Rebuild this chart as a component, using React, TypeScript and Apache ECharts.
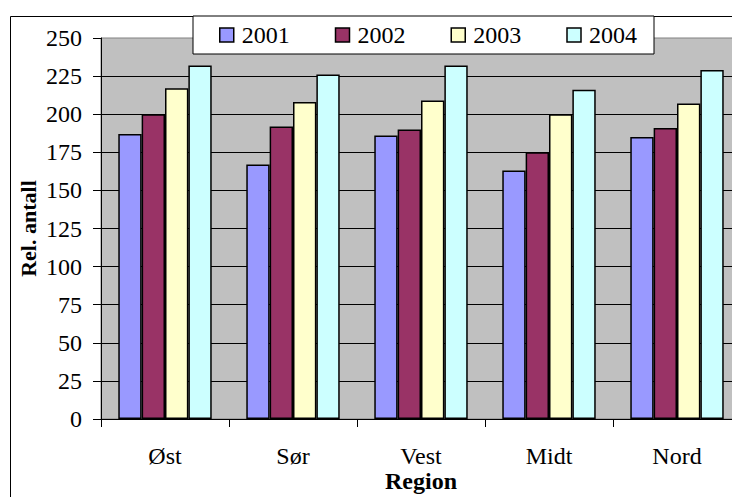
import React, { useEffect, useRef } from "react";
import * as echarts from "echarts";

const categories = ["Øst", "Sør", "Vest", "Midt", "Nord"];
const years = ["2001", "2002", "2003", "2004"];
const v2001 = [187, 167, 186, 163, 185];
const v2002 = [200, 192, 190, 175, 191];
const v2003 = [217, 208, 209, 200, 207];
const v2004 = [232, 226, 232, 216, 229];
const yTicks = [0, 25, 50, 75, 100, 125, 150, 175, 200, 225, 250];
const colors = ["#9999FF", "#993366", "#FFFFCC", "#CCFFFF"];

const FONT = "Liberation Serif";

export default function App() {
  const ref = useRef<HTMLDivElement>(null);
  useEffect(() => {
    if (!ref.current) return;
    const chart = echarts.init(ref.current, null, { renderer: "svg" });
    const seriesData = [v2001, v2002, v2003, v2004];
    chart.setOption({
      animation: false,
      backgroundColor: "#ffffff",
      textStyle: { fontFamily: FONT },
      graphic: [
        {
          type: "rect",
          z: -10,
          shape: { x: 10.5, y: 16.5, width: 900, height: 700 },
          style: { fill: "none", stroke: "#000", lineWidth: 1 },
        },
      ],
      legend: {
        data: years,
        left: 193,
        top: 16,
        padding: [7, 17, 7, 26],
        itemGap: 45,
        itemWidth: 14,
        itemHeight: 14,
        backgroundColor: "#ffffff",
        borderColor: "#000",
        borderWidth: 1,
        icon: "rect",
        itemStyle: { borderColor: "#000", borderWidth: 1.5 },
        textStyle: { fontFamily: FONT, fontSize: 24, color: "#000", padding: [0, 0, 0, 3] },
        z: 10,
      },
      grid: {
        left: 101,
        top: 38,
        right: -9,
        bottom: 497 - 419,
        containLabel: false,
        outerBoundsMode: "none",
        show: true,
        backgroundColor: "#C0C0C0",
        borderColor: "#808080",
        borderWidth: 1,
      },
      xAxis: {
        type: "category",
        data: categories,
        name: "Region",
        nameLocation: "middle",
        nameGap: 50,
        nameMoveOverlap: false,
        nameTextStyle: { fontFamily: FONT, fontSize: 24, fontWeight: "bold", color: "#000" },
        axisLine: { lineStyle: { color: "#000", width: 1 } },
        axisTick: { show: true, length: 8, lineStyle: { color: "#000" } },
        axisLabel: { fontFamily: FONT, fontSize: 24, color: "#000", margin: 25 },
        splitLine: { show: false },
      },
      yAxis: {
        type: "value",
        min: yTicks[0],
        max: yTicks[yTicks.length - 1],
        interval: 25,
        name: "Rel. antall",
        nameLocation: "middle",
        nameGap: 62,
        nameMoveOverlap: false,
        nameTextStyle: { fontFamily: FONT, fontSize: 22, fontWeight: "bold", color: "#000" },
        axisLine: { show: true, lineStyle: { color: "#000", width: 1 } },
        axisTick: { show: true, length: 8, inside: false, lineStyle: { color: "#000" } },
        axisLabel: { fontFamily: FONT, fontSize: 24, color: "#000", margin: 19 },
        splitLine: { show: true, showMaxLine: false, lineStyle: { color: "#000", width: 1 } },
      },
      series: years.map((y, i) => ({
        name: y,
        type: "bar",
        data: seriesData[i],
        barGap: "0%",
        barCategoryGap: "27%",
        itemStyle: { color: colors[i], borderColor: "#000", borderWidth: 1.5 },
      })),
    });
    return () => chart.dispose();
  }, []);
  return (
    <div
      ref={ref}
      style={{ position: "fixed", left: 0, top: 0, width: 732, height: 497 }}
    />
  );
}
